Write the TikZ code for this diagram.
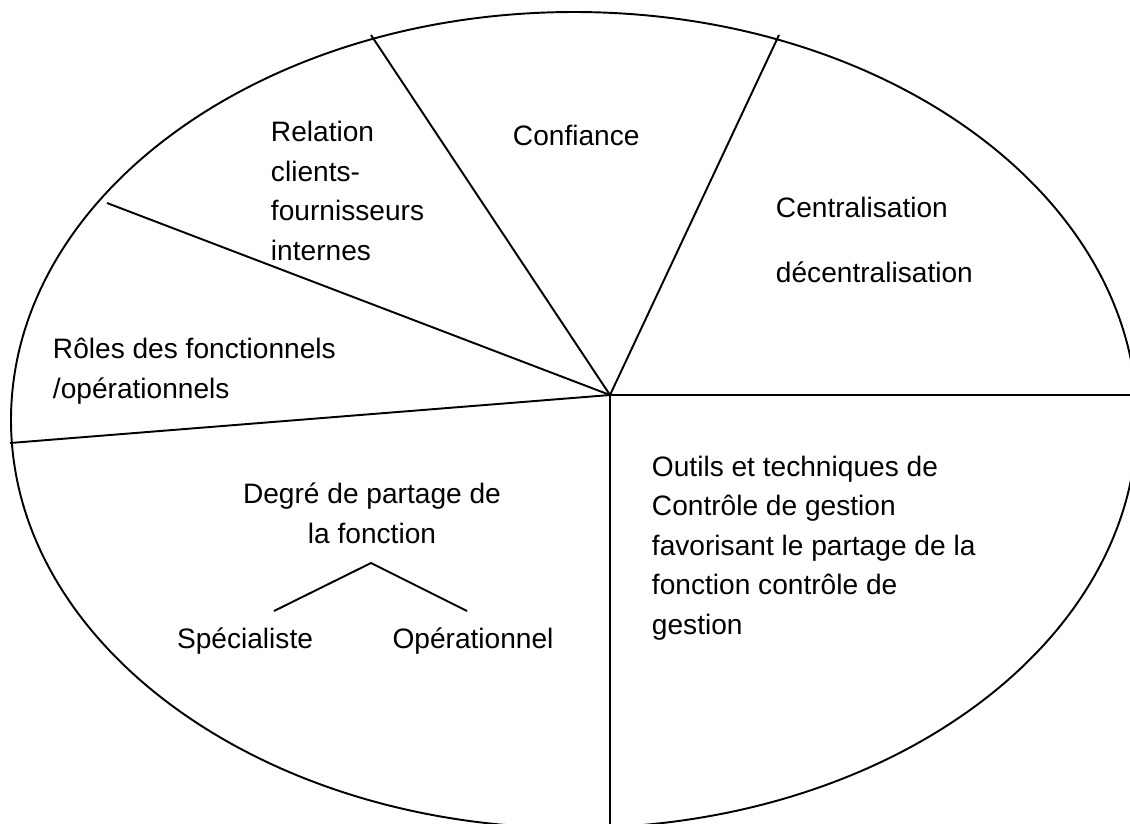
\documentclass[tikz,border=0pt]{standalone}
\usepackage{fontspec}
\setmainfont{Liberation Sans}
\usetikzlibrary{positioning}

\begin{document}
\begin{tikzpicture}[x=0.02cm, y=-0.02cm, line width=1.1pt,
  lbl/.style={inner sep=0pt, align=left, font=\fontsize{16}{22.4}\selectfont}]
  \useasboundingbox (0,0) rectangle (1130,823);

  % outer ellipse
  \draw (574,420) ellipse [x radius=563, y radius=408];

  % spokes
  \coordinate (hub) at (610,395);
  \coordinate (eR)  at (1140,395);
  \coordinate (eB)  at (610,830);
  \coordinate (eL)  at (10,443);
  \coordinate (eUL) at (107,203);
  \coordinate (eT1) at (371,35);
  \coordinate (eT2) at (779,35);
  \draw (hub) -- (eR);
  \draw (hub) -- (eB);
  \draw (hub) -- (eL);
  \draw (hub) -- (eUL);
  \draw (hub) -- (eT1);
  \draw (hub) -- (eT2);

  % sector labels (base = last line)
  \node[lbl, anchor=base west] (rel) at (270,260) {Relation\\clients-\\fournisseurs\\internes};
  \node[lbl, anchor=base west] (conf) at (512,145) {Confiance};
  \node[lbl, anchor=base west] (centr) at (775,217) {Centralisation};
  \node[lbl, anchor=base west] (decentr) at (775,282) {décentralisation};
  \node[lbl, anchor=base west] (roles) at (52,398) {Rôles des fonctionnels\\/opérationnels};
  \node[lbl, anchor=base, align=center] (degre) at (372,543) {Degré de partage de\\la fonction};
  \node[lbl, anchor=base] (spec) at (245,648) {Spécialiste};
  \node[lbl, anchor=base] (oper) at (473,648) {Opérationnel};
  \node[lbl, anchor=base west] (outils) at (651,634) {Outils et techniques de\\Contrôle de gestion\\favorisant le partage de la\\fonction contrôle de\\gestion};

  % small tree under degre
  \coordinate (apex) at (371,563);
  \coordinate (legL) at (274,611);
  \coordinate (legR) at (467,611);
  \draw (legL) -- (apex) -- (legR);
\end{tikzpicture}
\end{document}
